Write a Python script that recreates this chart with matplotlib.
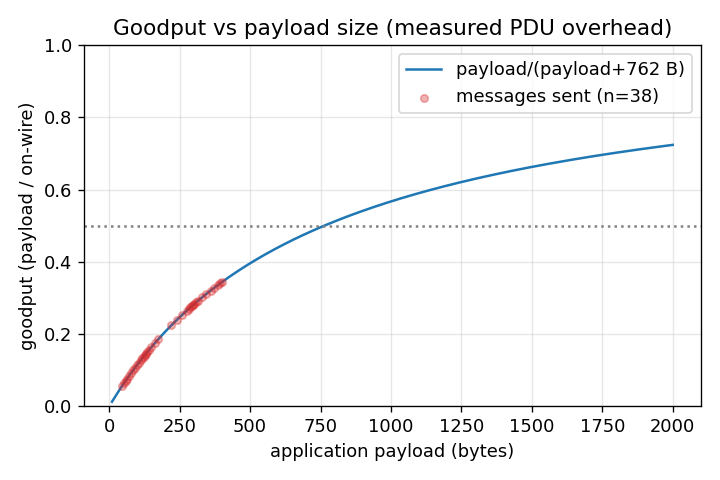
import numpy as np
import matplotlib
matplotlib.use("Agg")
import matplotlib.pyplot as plt

plt.rcParams['font.family'] = ['DejaVu Sans']
plt.rcParams['font.size'] = 10.7

overhead = 762
# payload sizes of the sent messages (bytes)
sent = [45, 52, 58, 63, 70, 78, 85, 92, 98, 105,
        112, 118, 122, 126, 130, 135, 142, 150, 162, 175,
        220, 240, 258, 275, 282, 288, 293, 298, 302, 308,
        315, 330, 345, 360, 372, 385, 395, 402]

p = np.linspace(10, 2000, 400)
sent = np.array(sent)

fig, ax = plt.subplots(figsize=(6, 4), dpi=120)
ax.plot(p, p / (p + overhead), color="tab:blue", label="payload/(payload+762 B)")
ax.scatter(sent, sent / (sent + overhead), s=20, color="tab:red", alpha=0.35,
           label="messages sent (n=%d)" % len(sent), zorder=3)
ax.axhline(0.5, color="gray", linestyle=":", linewidth=1.5)

ax.set_ylim(0, 1.0)
ax.set_xlabel("application payload (bytes)")
ax.set_ylabel("goodput (payload / on-wire)")
ax.set_title("Goodput vs payload size (measured PDU overhead)", fontsize=13)
ax.grid(alpha=0.3)
ax.legend(loc="upper right")
fig.tight_layout()
fig.savefig("out.png")
